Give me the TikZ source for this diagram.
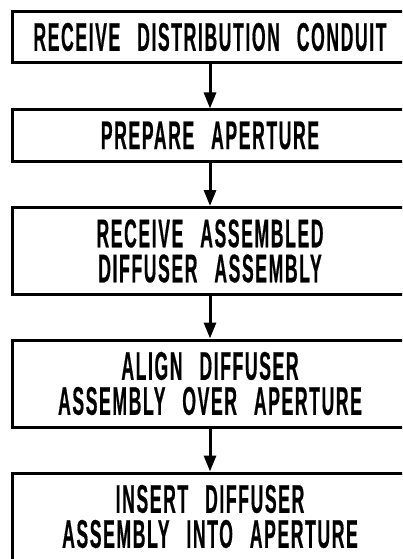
\documentclass[tikz,border=0pt]{standalone}
\usepackage{fontspec}
\setmainfont{Liberation Sans}[BoldFont={Liberation Sans Bold}]
\newfontfamily\cadfont{Liberation Sans Bold}[FakeStretch=0.44,WordSpace=2.6,LetterSpace=4,FakeBold=0.4]
\usetikzlibrary{arrows.meta}
\begin{document}
\begin{tikzpicture}[x=1pt,y=1pt,
  stepbox/.style={draw=black,line width=3pt,minimum width=395pt,inner sep=0pt,align=center,
    font=\cadfont\fontsize{40}{35}\selectfont},
  single/.style={minimum height=51pt},
  double/.style={minimum height=87pt},
  flow/.style={line width=3pt,-{Triangle[length=16pt,width=12pt]}}]
\useasboundingbox (0,0) rectangle (402,-559);
\clip (0,0) rectangle (402,-559);
\fill[white] (0,0) rectangle (402,-559);
\node[stepbox,single] (a) at (210,-37) {RECEIVE DISTRIBUTION CONDUIT};
\node[stepbox,single] (b) at (210,-135.5) {PREPARE APERTURE};
\node[stepbox,double] (c) at (210,-251) {RECEIVE ASSEMBLED\\DIFFUSER ASSEMBLY};
\node[stepbox,double] (d) at (210,-383.5) {ALIGN DIFFUSER\\ASSEMBLY OVER APERTURE};
\node[stepbox,double] (e) at (210,-516.5) {INSERT DIFFUSER\\ASSEMBLY INTO APERTURE};
\draw[flow] (a) -- (b);
\draw[flow] (b) -- (c);
\draw[flow] (c) -- (d);
\draw[flow] (d) -- (e);
\end{tikzpicture}
\end{document}
